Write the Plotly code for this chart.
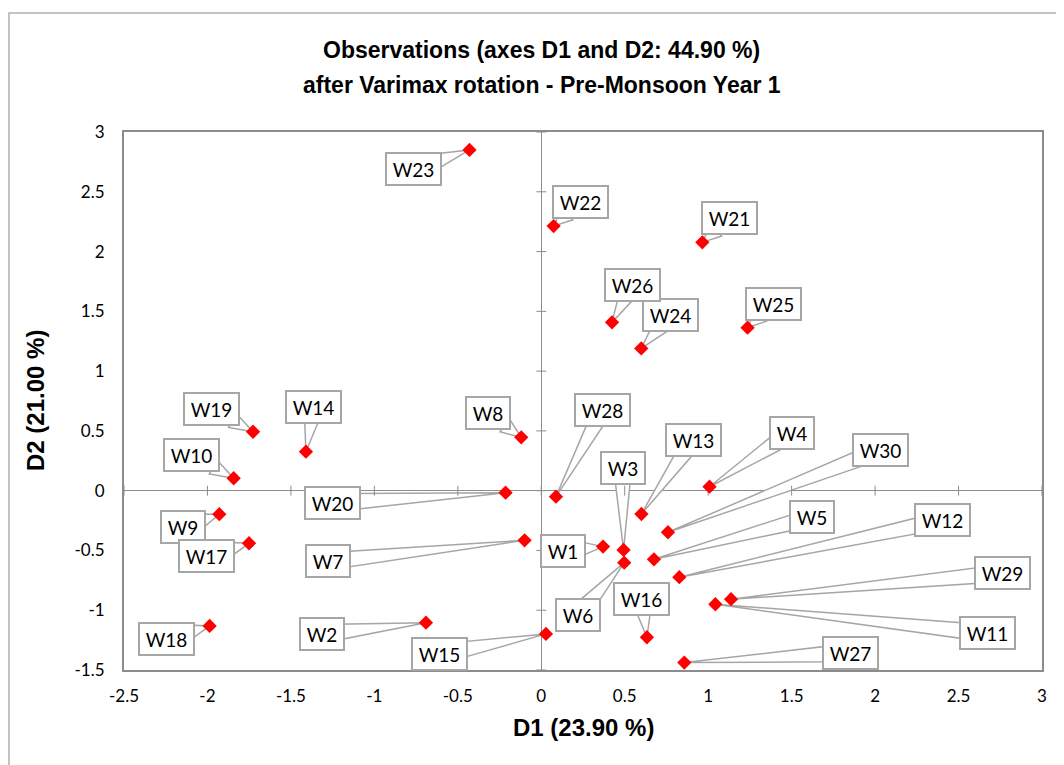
import numpy as np
import plotly.graph_objects as go

# ---------------- data ----------------
labels = ["W1", "W2", "W3", "W4", "W5", "W6", "W7", "W8", "W9", "W10",
          "W11", "W12", "W13", "W14", "W15", "W16", "W17", "W18", "W19", "W20",
          "W21", "W22", "W23", "W24", "W25", "W26", "W27", "W28", "W29", "W30"]
d1 = [0.370, -0.691, 0.493, 1.008, 0.675, 0.497, -0.100, -0.120, -1.929, -1.843,
      1.043, 0.827, 0.600, -1.410, 0.028, 0.633, -1.751, -1.987, -1.727, -0.214,
      0.965, 0.074, -0.430, 0.599, 1.236, 0.424, 0.857, 0.088, 1.137, 0.759]
d2 = [-0.468, -1.104, -0.496, 0.033, -0.574, -0.602, -0.415, 0.446, -0.197, 0.104,
      -0.950, -0.724, -0.195, 0.326, -1.198, -1.226, -0.440, -1.131, 0.493, -0.017,
      2.077, 2.213, 2.850, 1.190, 1.363, 1.408, -1.438, -0.050, -0.908, -0.348]

x_ticks = [-2.5, -2, -1.5, -1, -0.5, 0, 0.5, 1, 1.5, 2, 2.5, 3]
x_tick_text = ["-2.5", "-2", "-1.5", "-1", "-0.5", "0", "0.5", "1", "1.5", "2", "2.5", "3"]
y_ticks = [-1.5, -1, -0.5, 0, 0.5, 1, 1.5, 2, 2.5, 3]
y_tick_text = ["-1.5", "-1", "-0.5", "0", "0.5", "1", "1.5", "2", "2.5", "3"]

# label box centre offsets from each point (screen pixels, +dy = down) -- layout only
label_dx = [-40, -104, -1, 82, 158, -46, -197, -33, -36, -42,
            272, 263, 52, 8, -106, -5, -43, -43, -42, -173,
            27, 27, -56, 29, 26, 20, 166, 47, 271, 213]
label_dy = [4, 11, -82, -54, -42, 52, 21, -24, 13, -23,
            29, -57, -74, -45, 20, -38, 13, 13, -23, 10,
            -24, -24, 19, -33, -24, -37, -10, -87, -26, -82]

# ---------------- style ----------------
OFF = 8                      # page body margin
SW, SH = 1064, 765           # screen size
PL, PT, PR, PB = 124, 132, 1042, 670   # plot area on screen
PW, PH = PR - PL, PB - PT
W, H = SW - OFF, SH - OFF
L, T = PL - OFF, PT - OFF
R = W - (PR - OFF)
B = H - (PB - OFF)
AX = "#8C8C8C"
BOX = "#A6A6A6"
LBL_FONT = "Lato"


def px_x(p):
    return (p - PL) / PW


def px_y(p):
    return (PB - p) / PH


fig = go.Figure()

fig.add_trace(go.Scatter(
    x=d1, y=d2, mode="markers", text=labels,
    marker=dict(symbol="diamond", size=11, color="#FF0000", line=dict(width=0)),
    hoverinfo="text+x+y", showlegend=False,
))

shapes = []
annotations = []

# callout wedges + label boxes
for lab, x, y, dx, dy in zip(labels, d1, d2, label_dx, label_dy):
    inner_w = 11 * len(lab) + 12
    inner_h = 22
    hw = inner_w / 2 + 6
    hh = inner_h / 2 + 6
    c = np.array([dx, dy], dtype=float)
    dist = np.hypot(*c)
    u = -c / dist  # from centre toward the point
    t = min(hw / abs(u[0]) if abs(u[0]) > 1e-9 else 1e9,
            hh / abs(u[1]) if abs(u[1]) > 1e-9 else 1e9)
    base = c + u * max(t - 8, 0)
    perp = np.array([-u[1], u[0]])
    half = 8.0
    b1 = base + perp * half
    b2 = base - perp * half
    path = "M 0 0 L {:.1f} {:.1f} L {:.1f} {:.1f} Z".format(b1[0], -b1[1], b2[0], -b2[1])
    shapes.append(dict(
        type="path", xref="x", yref="y", xsizemode="pixel", ysizemode="pixel",
        xanchor=x, yanchor=y, path=path,
        line=dict(color=BOX, width=1.5), fillcolor="white", layer="between",
    ))
    annotations.append(dict(
        x=x, y=y, xref="x", yref="y", text=lab, showarrow=False,
        xshift=dx, yshift=-dy, width=inner_w, height=inner_h,
        font=dict(family=LBL_FONT, size=19, color="black"),
        bgcolor="white", bordercolor=BOX, borderwidth=2, borderpad=4,
        align="center", valign="middle",
    ))

# tick marks crossing the zero axes
for xv in x_ticks:
    shapes.append(dict(type="line", xref="x", yref="y", ysizemode="pixel", yanchor=0,
                       x0=xv, x1=xv, y0=-5, y1=5, line=dict(color=AX, width=1), layer="between"))
for yv in y_ticks:
    shapes.append(dict(type="line", xref="x", yref="y", xsizemode="pixel", xanchor=0,
                       y0=yv, y1=yv, x0=-5, x1=5, line=dict(color=AX, width=1), layer="between"))

# outer chart frame
shapes.append(dict(type="rect", xref="paper", yref="paper",
                   x0=px_x(9), x1=px_x(1200), y0=px_y(13), y1=px_y(900),
                   line=dict(color="#B0B0B0", width=1.5), fillcolor="rgba(0,0,0,0)", layer="below"))

# titles
title_font = dict(family="Liberation Sans", size=23, color="black")
axis_title_font = dict(family="Liberation Sans", size=24, color="black")
annotations += [
    dict(x=px_x(541), y=px_y(50), xref="paper", yref="paper", showarrow=False,
         text="<b>Observations (axes D1 and D2: 44.90 %)</b>", font=title_font,
         xanchor="center", yanchor="middle"),
    dict(x=px_x(542), y=px_y(85), xref="paper", yref="paper", showarrow=False,
         text="<b>after Varimax rotation - Pre-Monsoon Year 1</b>", font=title_font,
         xanchor="center", yanchor="middle"),
    dict(x=0.5, y=px_y(727), xref="paper", yref="paper", showarrow=False,
         text="<b>D1 (23.90 %)</b>", font=axis_title_font, xanchor="center", yanchor="middle"),
    dict(x=px_x(35), y=0.5, xref="paper", yref="paper", showarrow=False,
         text="<b>D2 (21.00 %)</b>", font=axis_title_font, textangle=-90,
         xanchor="center", yanchor="middle"),
]

tick_font = dict(family=LBL_FONT, size=17, color="black")
fig.update_layout(
    width=W, height=H,
    margin=dict(l=L, r=R, t=T, b=B),
    paper_bgcolor="white", plot_bgcolor="white",
    shapes=shapes, annotations=annotations,
    xaxis=dict(range=[-2.5, 3], tickvals=x_ticks, ticktext=x_tick_text, showgrid=False,
               zeroline=True, zerolinecolor=AX, zerolinewidth=1,
               showline=True, mirror=True, linecolor=AX, linewidth=2,
               ticks="", tickfont=tick_font, ticklabelstandoff=10, fixedrange=True),
    yaxis=dict(range=[-1.5, 3], tickvals=y_ticks, ticktext=y_tick_text, showgrid=False,
               zeroline=True, zerolinecolor=AX, zerolinewidth=1,
               showline=True, mirror=True, linecolor=AX, linewidth=2,
               ticks="", tickfont=tick_font, ticklabelstandoff=14, fixedrange=True),
)

fig.write_html("out.html")
